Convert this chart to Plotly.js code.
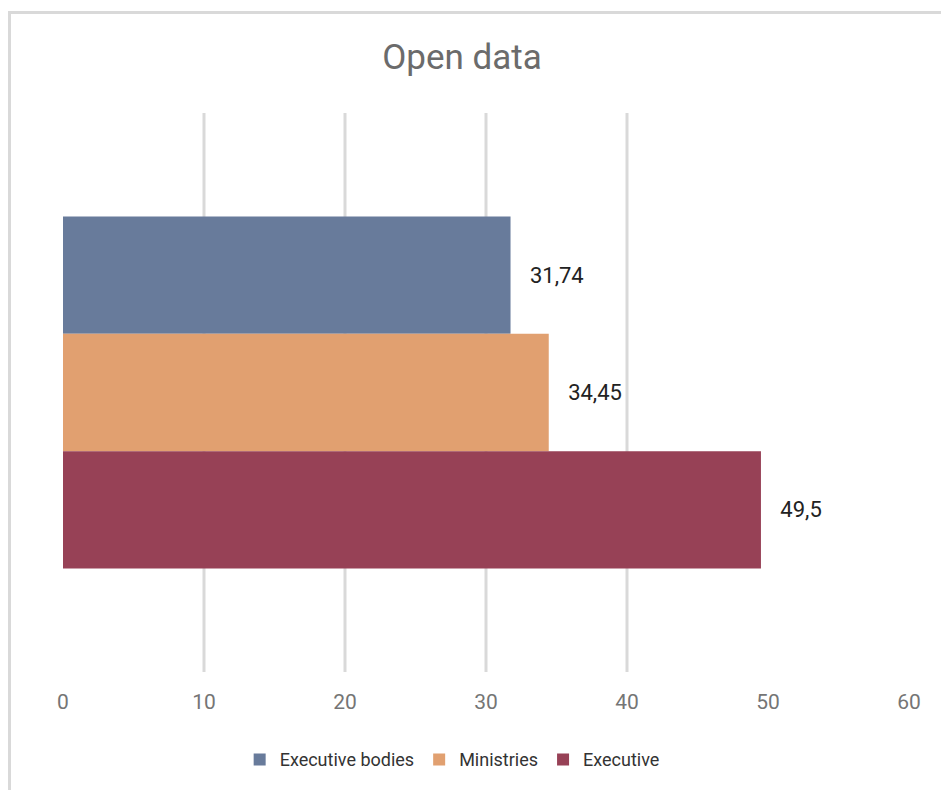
<!DOCTYPE html>
<html>
<head>
<meta charset="utf-8">
<script src="https://cdn.plot.ly/plotly-3.0.1.min.js"></script>
<style>
  html, body { margin: 0; padding: 0; background: #fff; }
  #frame { position: absolute; left: 8px; top: 11px; width: 960px; height: 800px;
           border-left: 3px solid #d9d9d9; border-top: 3px solid #d9d9d9; box-sizing: border-box; }
  #chart { position: absolute; left: 0; top: 0; width: 941px; height: 790px; }
</style>
</head>
<body>
<div id="frame"></div>
<div id="chart"></div>
<script>
const category = ["Open data"];
const seriesNames = ["Executive bodies", "Ministries", "Executive"];
const seriesValues = [31.74, 34.45, 49.5];
const seriesColors = ["#687b9b", "#e1a070", "#974156"];
const tickValues = [0, 10, 20, 30, 40, 50, 60];
const gridValues = [10, 20, 30, 40];

const traces = seriesNames.map((name, i) => ({
  type: "bar",
  orientation: "h",
  name: name,
  y: category,
  x: [seriesValues[i]],
  marker: { color: seriesColors[i] },
  text: [seriesValues[i]],
  texttemplate: "\u00a0\u00a0\u00a0%{x}",
  textposition: "outside",
  cliponaxis: false,
  textfont: { family: "Roboto", size: 22, color: "#222222" },
  hoverinfo: "skip"
}));

const shapes = gridValues.map(v => ({
  type: "line", xref: "x", yref: "paper",
  x0: v, x1: v, y0: 0, y1: 1,
  line: { color: "#d9d9d9", width: 3 },
  layer: "below"
}));

const layout = {
  width: 941, height: 790,
  margin: { l: 63, r: 32, t: 113, b: 118 },
  paper_bgcolor: "rgba(0,0,0,0)",
  plot_bgcolor: "rgba(0,0,0,0)",
  separators: ",.",
  title: {
    text: "Open data",
    font: { family: "Roboto", size: 35, color: "#6b6b6b" },
    x: 0.491, xanchor: "center",
    y: 0.928, yanchor: "middle"
  },
  barmode: "group",
  bargap: 0.37,
  bargroupgap: 0,
  xaxis: {
    range: [0, 60],
    tickvals: tickValues,
    showgrid: false,
    zeroline: false,
    showline: false,
    ticks: "",
    ticklabelstandoff: 15,
    tickfont: { family: "Roboto", size: 21, color: "#757575" },
    fixedrange: true
  },
  yaxis: {
    type: "category",
    autorange: "reversed",
    showticklabels: false,
    showgrid: false,
    zeroline: false,
    showline: false,
    fixedrange: true
  },
  shapes: shapes,
  showlegend: true,
  legend: {
    orientation: "h",
    x: 0.46, xanchor: "center",
    y: -0.157, yanchor: "middle",
    font: { family: "Roboto", size: 18, color: "#333333" },
    itemclick: false, itemdoubleclick: false
  },
  font: { family: "Roboto" }
};

Plotly.newPlot("chart", traces, layout, { displayModeBar: false, staticPlot: true });
</script>
</body>
</html>
